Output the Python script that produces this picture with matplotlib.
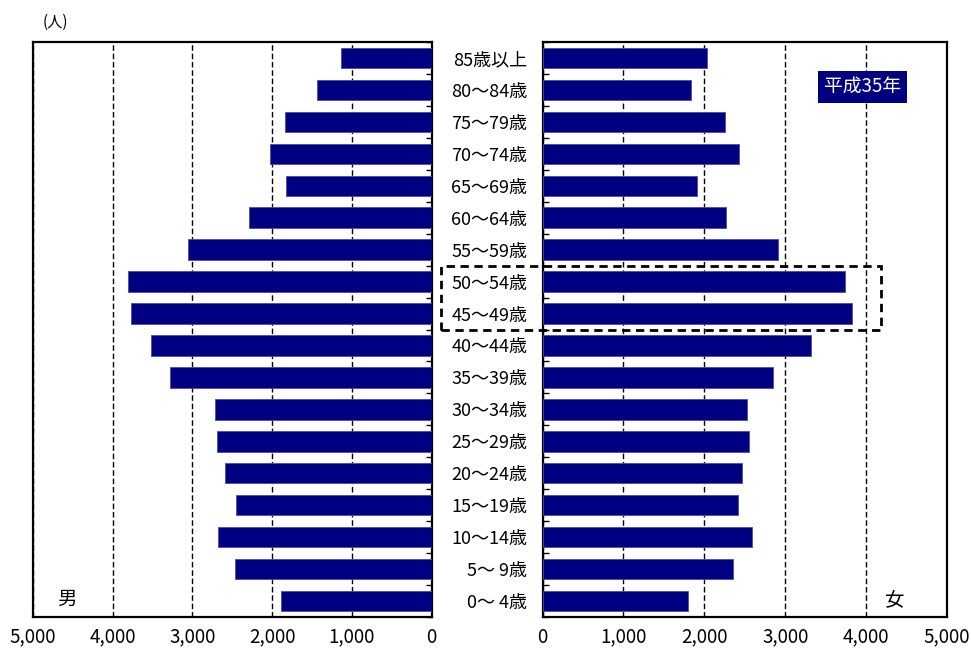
import matplotlib
matplotlib.use("Agg")
import matplotlib.pyplot as plt
from matplotlib.patches import Rectangle
import numpy as np

plt.rcParams['font.family'] = ['Noto Sans CJK JP', 'DejaVu Sans']

# categories from youngest (bottom) to oldest (top)
categories = ["0～ 4歳", "5～ 9歳", "10～14歳", "15～19歳", "20～24歳", "25～29歳",
              "30～34歳", "35～39歳", "40～44歳", "45～49歳", "50～54歳", "55～59歳",
              "60～64歳", "65～69歳", "70～74歳", "75～79歳", "80～84歳", "85歳以上"]
male = [1883, 2468, 2674, 2448, 2590, 2690, 2711, 3276, 3518, 3765, 3803, 3054,
        2285, 1820, 2021, 1841, 1435, 1130]
female = [1795, 2351, 2593, 2412, 2469, 2552, 2531, 2850, 3323, 3825, 3743, 2910,
          2272, 1914, 2432, 2252, 1836, 2033]
xticks = [0, 1000, 2000, 3000, 4000, 5000]
xticklabels = ["0", "1,000", "2,000", "3,000", "4,000", "5,000"]

navy = "#000080"
W, H = 971, 648
fig = plt.figure(figsize=(W / 100, H / 100), dpi=100)

axL = fig.add_axes([33 / W, 1 - 617 / H, (431.5 - 33) / W, (617 - 42) / H])
axR = fig.add_axes([542.5 / W, 1 - 617 / H, (947 - 542.5) / W, (617 - 42) / H])

y = np.arange(len(categories))
axL.barh(y, male, height=0.64, color=navy, edgecolor="#4a4ab0", linewidth=0.6, zorder=3)
axR.barh(y, female, height=0.64, color=navy, edgecolor="#4a4ab0", linewidth=0.6, zorder=3)

for ax in (axL, axR):
    ax.set_ylim(-0.5, len(categories) - 0.5)
    ax.set_xticks(xticks)
    ax.set_xticklabels(xticklabels, fontsize=13.5)
    ax.tick_params(axis='x', length=0, pad=7)
    ax.grid(axis='x', linestyle=(0, (4, 2)), color='black', linewidth=1.0, zorder=1)
    for s in ax.spines.values():
        s.set_linewidth(1.6)
        s.set_color('black')
    ax.set_yticks(np.arange(len(categories) + 1) - 0.5, minor=True)

axL.set_xlim(5000, 0)
axR.set_xlim(0, 5000)

axL.set_yticks([])
axL.yaxis.set_ticks_position('right')
axL.tick_params(axis='y', which='minor', direction='in', length=4, width=1, right=True, left=False)

axR.set_yticks(y)
axR.set_yticklabels(categories, fontsize=13, ha='right')
axR.tick_params(axis='y', which='major', length=0, pad=11)
axR.tick_params(axis='y', which='minor', direction='in', length=4, width=1)

# labels
axL.text(4574, 0.05, "男", fontsize=14, ha='center', va='center')
axR.text(4353, 0.05, "女", fontsize=14, ha='center', va='center')
axR.text(3955, 16.1, "平成35年", fontsize=13.5, color='white', ha='center', va='center',
         bbox=dict(boxstyle='square,pad=0.3', facecolor=navy, edgecolor='none'), zorder=5)
fig.text(55 / W, 1 - 22 / H, "(人)", fontsize=11, ha='center', va='center')

# dashed highlight box around 45-54
rect = Rectangle((-1250, 8.5), 4190 + 1250, 2.0, fill=False, edgecolor='black',
                 linewidth=2, linestyle=(0, (3, 2)), clip_on=False, zorder=6)
axR.add_patch(rect)

fig.savefig("out.png", dpi=100)
